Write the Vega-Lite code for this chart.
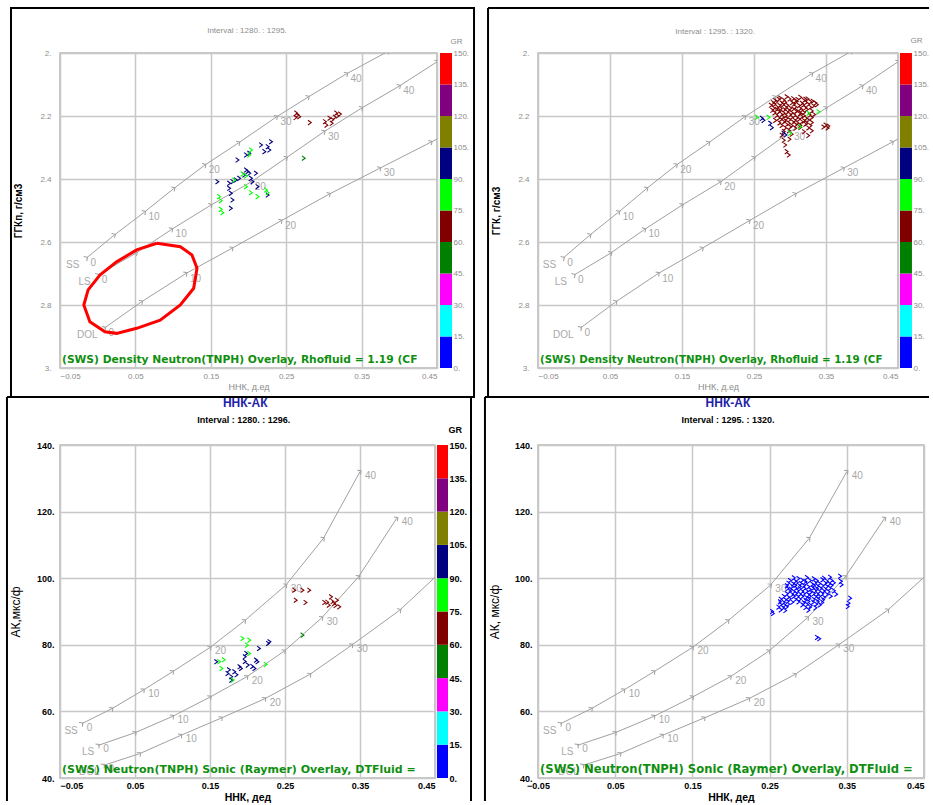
{
"$schema": "https://vega.github.io/schema/vega-lite/v6.json",
"background": "#ffffff",
"padding": {"left": 5, "top": 6, "right": 0, "bottom": 0},
"autosize": {"type": "pad"},
"config": {
  "font": "Liberation Sans",
  "view": {"stroke": "#b8b8b8", "strokeWidth": 1.5},
  "axis": {"grid": true, "gridColor": "#c8c8c8", "gridWidth": 1.5, "domain": false, "ticks": false, "tickSize": 0, "labelFont": "Liberation Sans", "titleFont": "Liberation Sans"},
  "text": {"font": "Liberation Sans"}
},
"datasets": {
  "dn": [
    {"lith":"SS","phi":0,"x":-0.015,"y":2.651},{"lith":"SS","phi":5,"x":0.022,"y":2.578},{"lith":"SS","phi":10,"x":0.062,"y":2.505},{"lith":"SS","phi":15,"x":0.101,"y":2.43},{"lith":"SS","phi":20,"x":0.142,"y":2.356},{"lith":"SS","phi":25,"x":0.187,"y":2.285},{"lith":"SS","phi":30,"x":0.237,"y":2.203},{"lith":"SS","phi":35,"x":0.279,"y":2.14},{"lith":"SS","phi":40,"x":0.33,"y":2.066},{"lith":"SS","phi":45,"x":0.385,"y":1.995},
    {"lith":"LS","phi":0,"x":0.0,"y":2.705},{"lith":"LS","phi":5,"x":0.051,"y":2.635},{"lith":"LS","phi":10,"x":0.098,"y":2.56},{"lith":"LS","phi":15,"x":0.15,"y":2.483},{"lith":"LS","phi":20,"x":0.203,"y":2.41},{"lith":"LS","phi":25,"x":0.25,"y":2.333},{"lith":"LS","phi":30,"x":0.3,"y":2.25},{"lith":"LS","phi":35,"x":0.35,"y":2.175},{"lith":"LS","phi":40,"x":0.4,"y":2.105},{"lith":"LS","phi":45,"x":0.45,"y":2.028},
    {"lith":"DOL","phi":0,"x":0.009,"y":2.873},{"lith":"DOL","phi":5,"x":0.058,"y":2.79},{"lith":"DOL","phi":10,"x":0.117,"y":2.7},{"lith":"DOL","phi":15,"x":0.178,"y":2.62},{"lith":"DOL","phi":20,"x":0.243,"y":2.533},{"lith":"DOL","phi":25,"x":0.307,"y":2.448},{"lith":"DOL","phi":30,"x":0.374,"y":2.366},{"lith":"DOL","phi":35,"x":0.442,"y":2.283},{"lith":"DOL","phi":40,"x":0.51,"y":2.2}
  ],
  "ns": [
    {"lith":"SS","phi":0,"x":-0.021,"y":56.3},{"lith":"SS","phi":5,"x":0.019,"y":60.8},{"lith":"SS","phi":10,"x":0.061,"y":66.4},{"lith":"SS","phi":15,"x":0.1,"y":71.9},{"lith":"SS","phi":20,"x":0.15,"y":79.2},{"lith":"SS","phi":25,"x":0.196,"y":87.2},{"lith":"SS","phi":30,"x":0.251,"y":97.9},{"lith":"SS","phi":35,"x":0.301,"y":111.9},{"lith":"SS","phi":40,"x":0.35,"y":132.0},
    {"lith":"LS","phi":0,"x":0.001,"y":49.8},{"lith":"LS","phi":5,"x":0.05,"y":53.6},{"lith":"LS","phi":10,"x":0.1,"y":58.5},{"lith":"LS","phi":15,"x":0.15,"y":64.3},{"lith":"LS","phi":20,"x":0.199,"y":70.4},{"lith":"LS","phi":25,"x":0.249,"y":78.1},{"lith":"LS","phi":30,"x":0.299,"y":88.1},{"lith":"LS","phi":35,"x":0.348,"y":100.4},{"lith":"LS","phi":40,"x":0.399,"y":118.0},
    {"lith":"DOL","phi":0,"x":0.008,"y":43.8},{"lith":"DOL","phi":5,"x":0.056,"y":47.3},{"lith":"DOL","phi":10,"x":0.111,"y":52.8},{"lith":"DOL","phi":15,"x":0.165,"y":58.0},{"lith":"DOL","phi":20,"x":0.223,"y":63.8},{"lith":"DOL","phi":25,"x":0.283,"y":71.1},{"lith":"DOL","phi":30,"x":0.339,"y":79.9},{"lith":"DOL","phi":35,"x":0.403,"y":90.4},{"lith":"DOL","phi":40,"x":0.47,"y":104.5}
  ],
  "gr": [
    {"lo":0,"hi":15},{"lo":15,"hi":30},{"lo":30,"hi":45},{"lo":45,"hi":60},{"lo":60,"hi":75},{"lo":75,"hi":90},{"lo":90,"hi":105},{"lo":105,"hi":120},{"lo":120,"hi":135},{"lo":135,"hi":150}
  ],
  "ell": [
    {"i":0,"x":0.0784,"y":2.604},{"i":1,"x":0.1096,"y":2.615},{"i":2,"x":0.125,"y":2.641},{"i":3,"x":0.1317,"y":2.683},{"i":4,"x":0.1273,"y":2.747},{"i":5,"x":0.1096,"y":2.8},{"i":6,"x":0.0829,"y":2.848},{"i":7,"x":0.0517,"y":2.874},{"i":8,"x":0.0251,"y":2.89},{"i":9,"x":0.0096,"y":2.885},{"i":10,"x":-0.0104,"y":2.853},{"i":11,"x":-0.0184,"y":2.8},{"i":12,"x":-0.0127,"y":2.752},{"i":13,"x":0.0029,"y":2.705},{"i":14,"x":0.0251,"y":2.663},{"i":15,"x":0.0517,"y":2.625},{"i":16,"x":0.0784,"y":2.604}
  ],
  "tlp": [
    {"x":0.263,"y":2.191,"g":65},{"x":0.267,"y":2.202,"g":65},{"x":0.265,"y":2.197,"g":65},{"x":0.262,"y":2.205,"g":65},{"x":0.281,"y":2.221,"g":65},{"x":0.301,"y":2.218,"g":65},{"x":0.307,"y":2.207,"g":65},{"x":0.316,"y":2.191,"g":65},{"x":0.321,"y":2.194,"g":65},{"x":0.31,"y":2.223,"g":65},{"x":0.303,"y":2.229,"g":65},{"x":0.314,"y":2.204,"g":65},{"x":0.318,"y":2.2,"g":65},{"x":0.311,"y":2.212,"g":65},
    {"x":0.273,"y":2.334,"g":50},
    {"x":0.2296,"y":2.2816,"g":95},{"x":0.2251,"y":2.2975,"g":95},{"x":0.2273,"y":2.308,"g":95},{"x":0.2207,"y":2.3132,"g":95},{"x":0.2163,"y":2.292,"g":95},{"x":0.2007,"y":2.3185,"g":95},{"x":0.1963,"y":2.3238,"g":95},{"x":0.1851,"y":2.3397,"g":95},{"x":0.1963,"y":2.3714,"g":95},{"x":0.2007,"y":2.382,"g":95},{"x":0.194,"y":2.3873,"g":95},{"x":0.1829,"y":2.4032,"g":95},{"x":0.1784,"y":2.4085,"g":95},{"x":0.174,"y":2.4137,"g":95},{"x":0.1584,"y":2.4085,"g":95},{"x":0.174,"y":2.4296,"g":95},{"x":0.1763,"y":2.4455,"g":95},{"x":0.1784,"y":2.4667,"g":95},{"x":0.1763,"y":2.493,"g":95},{"x":0.2029,"y":2.3979,"g":95},{"x":0.2096,"y":2.382,"g":95},{"x":0.2051,"y":2.4085,"g":95},{"x":0.2117,"y":2.4244,"g":95},{"x":0.2251,"y":2.4508,"g":95},{"x":0.1873,"y":2.3979,"g":95},{"x":0.1985,"y":2.376,"g":95},
    {"x":0.2029,"y":2.308,"g":80},{"x":0.2007,"y":2.3238,"g":80},{"x":0.1807,"y":2.4032,"g":80},{"x":0.1918,"y":2.3841,"g":80},{"x":0.1963,"y":2.3905,"g":80},{"x":0.1963,"y":2.4244,"g":80},{"x":0.2029,"y":2.4434,"g":80},{"x":0.2117,"y":2.456,"g":80},{"x":0.2229,"y":2.4349,"g":80},{"x":0.2251,"y":2.4434,"g":80},{"x":0.1607,"y":2.456,"g":80},{"x":0.1629,"y":2.4688,"g":80},{"x":0.1629,"y":2.4963,"g":80},{"x":0.1651,"y":2.5069,"g":80}
  ],
  "trp": [
    {"x":0.286,"y":2.143,"g":65},{"x":0.295,"y":2.139,"g":65},{"x":0.304,"y":2.145,"g":65},{"x":0.314,"y":2.141,"g":65},{"x":0.321,"y":2.147,"g":65},
    {"x":0.279,"y":2.151,"g":65},{"x":0.284,"y":2.147,"g":65},{"x":0.291,"y":2.15,"g":65},{"x":0.299,"y":2.146,"g":65},{"x":0.307,"y":2.152,"g":65},{"x":0.31,"y":2.148,"g":65},{"x":0.319,"y":2.151,"g":65},{"x":0.324,"y":2.146,"g":65},{"x":0.331,"y":2.153,"g":65},
    {"x":0.276,"y":2.158,"g":65},{"x":0.281,"y":2.155,"g":65},{"x":0.288,"y":2.159,"g":65},{"x":0.293,"y":2.156,"g":65},{"x":0.302,"y":2.158,"g":65},{"x":0.309,"y":2.154,"g":65},{"x":0.316,"y":2.16,"g":65},{"x":0.322,"y":2.157,"g":65},{"x":0.328,"y":2.155,"g":65},{"x":0.335,"y":2.159,"g":65},
    {"x":0.273,"y":2.166,"g":65},{"x":0.278,"y":2.163,"g":65},{"x":0.285,"y":2.167,"g":65},{"x":0.29,"y":2.164,"g":65},{"x":0.296,"y":2.166,"g":65},{"x":0.305,"y":2.162,"g":65},{"x":0.312,"y":2.167,"g":65},{"x":0.318,"y":2.165,"g":65},{"x":0.325,"y":2.163,"g":65},{"x":0.332,"y":2.168,"g":65},{"x":0.337,"y":2.164,"g":65},
    {"x":0.277,"y":2.175,"g":65},{"x":0.282,"y":2.172,"g":65},{"x":0.287,"y":2.176,"g":65},{"x":0.294,"y":2.173,"g":65},{"x":0.3,"y":2.175,"g":65},{"x":0.307,"y":2.171,"g":65},{"x":0.314,"y":2.176,"g":65},{"x":0.321,"y":2.174,"g":65},{"x":0.328,"y":2.172,"g":65},
    {"x":0.275,"y":2.182,"g":65},{"x":0.281,"y":2.179,"g":65},{"x":0.286,"y":2.183,"g":65},{"x":0.292,"y":2.18,"g":65},{"x":0.298,"y":2.182,"g":65},{"x":0.304,"y":2.178,"g":65},{"x":0.309,"y":2.183,"g":65},{"x":0.316,"y":2.181,"g":65},{"x":0.323,"y":2.179,"g":65},{"x":0.33,"y":2.184,"g":65},
    {"x":0.278,"y":2.19,"g":65},{"x":0.284,"y":2.187,"g":65},{"x":0.291,"y":2.191,"g":65},{"x":0.296,"y":2.188,"g":65},{"x":0.302,"y":2.19,"g":65},{"x":0.308,"y":2.186,"g":65},{"x":0.314,"y":2.191,"g":65},{"x":0.319,"y":2.189,"g":65},
    {"x":0.281,"y":2.198,"g":65},{"x":0.288,"y":2.195,"g":65},{"x":0.294,"y":2.199,"g":65},{"x":0.3,"y":2.196,"g":65},{"x":0.306,"y":2.198,"g":65},{"x":0.313,"y":2.194,"g":65},{"x":0.319,"y":2.199,"g":65},{"x":0.327,"y":2.197,"g":65},{"x":0.333,"y":2.195,"g":65},
    {"x":0.284,"y":2.206,"g":65},{"x":0.29,"y":2.203,"g":65},{"x":0.295,"y":2.207,"g":65},{"x":0.302,"y":2.204,"g":65},{"x":0.309,"y":2.206,"g":65},{"x":0.316,"y":2.202,"g":65},{"x":0.322,"y":2.207,"g":65},{"x":0.33,"y":2.205,"g":65},
    {"x":0.279,"y":2.214,"g":65},{"x":0.287,"y":2.211,"g":65},{"x":0.293,"y":2.215,"g":65},{"x":0.299,"y":2.212,"g":65},{"x":0.306,"y":2.214,"g":65},{"x":0.312,"y":2.21,"g":65},{"x":0.319,"y":2.215,"g":65},{"x":0.325,"y":2.213,"g":65},
    {"x":0.285,"y":2.222,"g":65},{"x":0.291,"y":2.219,"g":65},{"x":0.298,"y":2.223,"g":65},{"x":0.304,"y":2.22,"g":65},{"x":0.31,"y":2.222,"g":65},{"x":0.316,"y":2.218,"g":65},{"x":0.323,"y":2.223,"g":65},{"x":0.33,"y":2.221,"g":65},
    {"x":0.288,"y":2.23,"g":65},{"x":0.295,"y":2.227,"g":65},{"x":0.302,"y":2.231,"g":65},{"x":0.308,"y":2.228,"g":65},{"x":0.314,"y":2.23,"g":65},{"x":0.321,"y":2.226,"g":65},{"x":0.328,"y":2.231,"g":65},{"x":0.349,"y":2.229,"g":65},{"x":0.353,"y":2.232,"g":65},
    {"x":0.293,"y":2.238,"g":65},{"x":0.3,"y":2.235,"g":65},{"x":0.307,"y":2.239,"g":65},{"x":0.314,"y":2.236,"g":65},{"x":0.325,"y":2.238,"g":65},{"x":0.346,"y":2.235,"g":65},{"x":0.352,"y":2.238,"g":65},
    {"x":0.291,"y":2.249,"g":65},{"x":0.298,"y":2.246,"g":65},{"x":0.319,"y":2.25,"g":65},{"x":0.33,"y":2.247,"g":65},
    {"x":0.288,"y":2.261,"g":65},{"x":0.302,"y":2.258,"g":65},{"x":0.325,"y":2.262,"g":65},
    {"x":0.291,"y":2.277,"g":65},{"x":0.299,"y":2.274,"g":65},{"x":0.293,"y":2.292,"g":65},{"x":0.295,"y":2.313,"g":65},{"x":0.298,"y":2.324,"g":65},
    {"x":0.2606,"y":2.2074,"g":95},{"x":0.2629,"y":2.2138,"g":95},{"x":0.2722,"y":2.2233,"g":95},{"x":0.2745,"y":2.237,"g":95},{"x":0.2907,"y":2.255,"g":95},{"x":0.2935,"y":2.2603,"g":95},
    {"x":0.2537,"y":2.2042,"g":80},{"x":0.2699,"y":2.2042,"g":80},{"x":0.3,"y":2.255,"g":80},{"x":0.3138,"y":2.2339,"g":80},{"x":0.3254,"y":2.1915,"g":80},{"x":0.3393,"y":2.1863,"g":80}
  ],
  "blp": [
    {"x":0.262,"y":96.4,"g":65},{"x":0.273,"y":96.4,"g":65},{"x":0.282,"y":96.4,"g":65},{"x":0.264,"y":93.4,"g":65},{"x":0.277,"y":92.7,"g":65},{"x":0.302,"y":92.7,"g":65},{"x":0.311,"y":94.4,"g":65},{"x":0.315,"y":92.4,"g":65},{"x":0.319,"y":93.4,"g":65},{"x":0.308,"y":91.9,"g":65},{"x":0.322,"y":91.4,"g":65},{"x":0.313,"y":93.0,"g":65},{"x":0.317,"y":91.8,"g":65},{"x":0.306,"y":92.8,"g":65},
    {"x":0.273,"y":82.9,"g":50},
    {"x":0.158,"y":74.9,"g":95},{"x":0.173,"y":71.4,"g":95},{"x":0.178,"y":70.4,"g":95},{"x":0.182,"y":71.9,"g":95},{"x":0.189,"y":73.4,"g":95},{"x":0.196,"y":76.4,"g":95},{"x":0.198,"y":77.4,"g":95},{"x":0.2,"y":73.9,"g":95},{"x":0.209,"y":72.9,"g":95},{"x":0.213,"y":74.9,"g":95},{"x":0.215,"y":78.9,"g":95},{"x":0.227,"y":80.4,"g":95},{"x":0.229,"y":80.9,"g":95},{"x":0.178,"y":69.4,"g":95},{"x":0.191,"y":72.9,"g":95},{"x":0.211,"y":75.4,"g":95},{"x":0.185,"y":71.0,"g":95},{"x":0.175,"y":72.5,"g":95},{"x":0.206,"y":73.5,"g":95},{"x":0.196,"y":75.0,"g":95},
    {"x":0.193,"y":81.9,"g":80},{"x":0.202,"y":81.4,"g":80},{"x":0.199,"y":79.9,"g":80},{"x":0.202,"y":77.4,"g":80},{"x":0.162,"y":74.9,"g":80},{"x":0.165,"y":72.9,"g":80},{"x":0.18,"y":69.4,"g":80},{"x":0.224,"y":74.1,"g":80},{"x":0.168,"y":75.5,"g":80}
  ],
  "brp": [
    {"x":0.281,"y":100.1,"g":10},{"x":0.287,"y":99.9,"g":10},{"x":0.298,"y":100.2,"g":10},{"x":0.307,"y":99.8,"g":10},{"x":0.32,"y":100.0,"g":10},{"x":0.328,"y":100.3,"g":10},
    {"x":0.276,"y":99.3,"g":10},{"x":0.283,"y":99.1,"g":10},{"x":0.292,"y":99.4,"g":10},{"x":0.296,"y":99.0,"g":10},{"x":0.302,"y":99.3,"g":10},{"x":0.311,"y":99.2,"g":10},{"x":0.318,"y":99.5,"g":10},{"x":0.324,"y":99.1,"g":10},{"x":0.33,"y":99.3,"g":10},
    {"x":0.274,"y":98.5,"g":10},{"x":0.28,"y":98.3,"g":10},{"x":0.285,"y":98.6,"g":10},{"x":0.29,"y":98.4,"g":10},{"x":0.297,"y":98.5,"g":10},{"x":0.305,"y":98.2,"g":10},{"x":0.309,"y":98.6,"g":10},{"x":0.314,"y":98.4,"g":10},{"x":0.322,"y":98.5,"g":10},{"x":0.327,"y":98.3,"g":10},{"x":0.333,"y":98.6,"g":10},
    {"x":0.272,"y":97.7,"g":10},{"x":0.279,"y":97.5,"g":10},{"x":0.283,"y":97.8,"g":10},{"x":0.289,"y":97.6,"g":10},{"x":0.294,"y":97.7,"g":10},{"x":0.3,"y":97.4,"g":10},{"x":0.307,"y":97.8,"g":10},{"x":0.312,"y":97.6,"g":10},{"x":0.318,"y":97.7,"g":10},{"x":0.324,"y":97.5,"g":10},{"x":0.33,"y":97.8,"g":10},
    {"x":0.273,"y":96.9,"g":10},{"x":0.277,"y":96.7,"g":10},{"x":0.284,"y":97.0,"g":10},{"x":0.289,"y":96.8,"g":10},{"x":0.295,"y":96.9,"g":10},{"x":0.302,"y":96.6,"g":10},{"x":0.306,"y":97.0,"g":10},{"x":0.311,"y":96.8,"g":10},{"x":0.316,"y":96.9,"g":10},{"x":0.322,"y":96.7,"g":10},{"x":0.328,"y":97.0,"g":10},
    {"x":0.276,"y":96.1,"g":10},{"x":0.281,"y":95.9,"g":10},{"x":0.286,"y":96.2,"g":10},{"x":0.292,"y":96.0,"g":10},{"x":0.298,"y":96.1,"g":10},{"x":0.303,"y":95.8,"g":10},{"x":0.309,"y":96.2,"g":10},{"x":0.314,"y":96.0,"g":10},{"x":0.32,"y":96.1,"g":10},{"x":0.326,"y":95.9,"g":10},{"x":0.333,"y":96.2,"g":10},
    {"x":0.272,"y":95.3,"g":10},{"x":0.279,"y":95.1,"g":10},{"x":0.284,"y":95.4,"g":10},{"x":0.289,"y":95.2,"g":10},{"x":0.294,"y":95.3,"g":10},{"x":0.3,"y":95.0,"g":10},{"x":0.307,"y":95.4,"g":10},{"x":0.312,"y":95.2,"g":10},{"x":0.318,"y":95.3,"g":10},{"x":0.324,"y":95.1,"g":10},
    {"x":0.268,"y":94.5,"g":10},{"x":0.274,"y":94.3,"g":10},{"x":0.281,"y":94.6,"g":10},{"x":0.286,"y":94.4,"g":10},{"x":0.292,"y":94.5,"g":10},{"x":0.297,"y":94.2,"g":10},{"x":0.302,"y":94.6,"g":10},{"x":0.309,"y":94.4,"g":10},{"x":0.314,"y":94.5,"g":10},{"x":0.32,"y":94.3,"g":10},{"x":0.329,"y":94.6,"g":10},
    {"x":0.264,"y":93.7,"g":10},{"x":0.27,"y":93.5,"g":10},{"x":0.276,"y":93.8,"g":10},{"x":0.283,"y":93.6,"g":10},{"x":0.289,"y":93.7,"g":10},{"x":0.296,"y":93.4,"g":10},{"x":0.301,"y":93.8,"g":10},{"x":0.307,"y":93.6,"g":10},{"x":0.313,"y":93.7,"g":10},{"x":0.319,"y":93.5,"g":10},
    {"x":0.263,"y":92.9,"g":10},{"x":0.268,"y":92.7,"g":10},{"x":0.273,"y":93.0,"g":10},{"x":0.279,"y":92.8,"g":10},{"x":0.287,"y":92.9,"g":10},{"x":0.294,"y":92.6,"g":10},{"x":0.3,"y":93.0,"g":10},{"x":0.306,"y":92.8,"g":10},{"x":0.312,"y":92.9,"g":10},{"x":0.318,"y":92.7,"g":10},
    {"x":0.264,"y":92.1,"g":10},{"x":0.269,"y":91.9,"g":10},{"x":0.274,"y":92.2,"g":10},{"x":0.292,"y":92.0,"g":10},{"x":0.298,"y":92.1,"g":10},{"x":0.303,"y":91.8,"g":10},{"x":0.31,"y":92.2,"g":10},{"x":0.315,"y":92.0,"g":10},
    {"x":0.261,"y":91.3,"g":10},{"x":0.267,"y":91.1,"g":10},{"x":0.272,"y":91.4,"g":10},{"x":0.296,"y":91.2,"g":10},{"x":0.302,"y":91.3,"g":10},{"x":0.309,"y":91.1,"g":10},
    {"x":0.264,"y":90.5,"g":10},{"x":0.27,"y":90.3,"g":10},{"x":0.3,"y":90.4,"g":10},
    {"x":0.253,"y":90.0,"g":10},{"x":0.254,"y":89.4,"g":10},{"x":0.341,"y":100.6,"g":10},{"x":0.342,"y":99.05,"g":10},{"x":0.343,"y":98.05,"g":10},{"x":0.352,"y":92.5,"g":10},{"x":0.354,"y":94.0,"g":10},{"x":0.351,"y":91.5,"g":10},{"x":0.311,"y":82.2,"g":10},{"x":0.314,"y":81.8,"g":10},{"x":0.336,"y":95.2,"g":10}
  ]
},
"columns": 2,
"spacing": {"row": 77, "column": 101},
"bounds": "flush",
"concat": [
  {
    "width": 377, "height": 315,
    "resolve": {"scale": {"y": "independent"}},
    "layer": [
      {"layer": [
        {"data": {"values": [{}]}, "mark": {"type": "rect", "filled": false, "stroke": "#000000", "strokeWidth": 2},
         "encoding": {"x": {"datum": -0.115, "type": "quantitative"}, "x2": {"datum": 0.4991}, "y": {"datum": 1.8571, "type": "quantitative"}, "y2": {"datum": 3.0921}}},
        {"data": {"name": "dn"}, "mark": {"type": "line", "color": "#a0a0a0", "strokeWidth": 1, "clip": true},
         "encoding": {
           "x": {"field": "x", "type": "quantitative", "scale": {"domain": [-0.05, 0.45], "nice": false, "zero": false},
                 "axis": {"values": [-0.05, 0.05, 0.15, 0.25, 0.35, 0.45], "format": ".2f", "title": "ННК, д.ед", "labelFontSize": 8, "labelColor": "#8c8c8c", "labelPadding": 4, "titleFontSize": 9, "titleFontWeight": "normal", "titleColor": "#8c8c8c", "titlePadding": 2}},
           "y": {"field": "y", "type": "quantitative", "scale": {"domain": [2, 3], "reverse": true, "nice": false, "zero": false},
                 "axis": {"values": [2, 2.2, 2.4, 2.6, 2.8, 3], "format": ".1f", "labelExpr": "replace(datum.label, '.0', '.')", "title": "ГГКп, г/см3", "labelFontSize": 8, "labelColor": "#8c8c8c", "labelPadding": 9, "titleFontSize": 10, "titleFontWeight": "bold", "titleColor": "#000000", "titlePadding": 16}},
           "detail": {"field": "lith"},
           "order": {"field": "phi"}
         }},
        {"data": {"name": "dn"}, "mark": {"type": "point", "shape": "M-0.5,-1L0.5,0L-0.5,1", "size": 30, "color": "#a0a0a0", "strokeWidth": 1, "angle": -33, "opacity": 1, "clip": true},
         "encoding": {"x": {"field": "x", "type": "quantitative"}, "y": {"field": "y", "type": "quantitative"}}},
        {"data": {"name": "dn"}, "transform": [{"filter": "datum.phi % 10 == 0 && datum.x <= 0.45 && datum.y >= 2"}],
         "mark": {"type": "text", "align": "left", "baseline": "middle", "dx": 4, "dy": 5, "fontSize": 10, "color": "#a8a8a8"},
         "encoding": {"x": {"field": "x", "type": "quantitative"}, "y": {"field": "y", "type": "quantitative"}, "text": {"field": "phi", "type": "quantitative", "format": "d"}}},
        {"data": {"name": "dn"}, "transform": [{"filter": "datum.phi == 0"}],
         "mark": {"type": "text", "align": "right", "baseline": "middle", "dx": -7, "dy": 7, "fontSize": 10, "color": "#a8a8a8"},
         "encoding": {"x": {"field": "x", "type": "quantitative"}, "y": {"field": "y", "type": "quantitative"}, "text": {"field": "lith", "type": "nominal"}}},
        {"data": {"name": "tlp"}, "mark": {"type": "point", "shape": "M-0.7,-1L0.7,0L-0.7,1", "size": 22, "strokeWidth": 1.1, "filled": false, "opacity": 1},
         "encoding": {"x": {"field": "x", "type": "quantitative"}, "y": {"field": "y", "type": "quantitative"},
           "color": {"field": "g", "type": "quantitative", "scale": {"type": "threshold", "domain": [15,30,45,60,75,90,105,120,135], "range": ["#0000ff","#00ffff","#ff00ff","#008000","#800000","#00ff00","#000080","#808000","#800080","#ff0000"]}, "legend": null}}},
        {"data": {"name": "ell"}, "mark": {"type": "line", "color": "#ff0000", "strokeWidth": 3},
         "encoding": {"x": {"field": "x", "type": "quantitative"}, "y": {"field": "y", "type": "quantitative"}, "order": {"field": "i"}}},
        {"data": {"values": [{}]}, "mark": {"type": "text", "text": "(SWS) Density Neutron(TNPH) Overlay, Rhofluid = 1.19 (CF", "align": "left", "baseline": "bottom", "dx": 2, "dy": -3, "font": "DejaVu Sans", "fontSize": 10.7, "fontWeight": "bold", "color": "#0f8f0f"},
         "encoding": {"x": {"datum": -0.05, "type": "quantitative"}, "y": {"datum": 3, "type": "quantitative"}}},
        {"data": {"values": [{}]}, "mark": {"type": "text", "text": "Interval : 1280. : 1295.", "align": "center", "baseline": "middle", "fontSize": 8, "color": "#8c8c8c"},
         "encoding": {"x": {"datum": 0.198, "type": "quantitative"}, "y": {"datum": 1.9302, "type": "quantitative"}}}
      ]},
      {"data": {"name": "gr"}, "mark": {"type": "rect"},
       "encoding": {
         "x": {"datum": 0.454, "type": "quantitative"}, "x2": {"datum": 0.4699},
         "y": {"field": "lo", "type": "quantitative", "scale": {"domain": [0, 150], "nice": false, "zero": false},
               "axis": {"orient": "right", "offset": 15, "values": [0,15,30,45,60,75,90,105,120,135,150], "format": "d", "labelExpr": "datum.label + '.'", "grid": false, "labelFontSize": 8, "labelColor": "#8c8c8c", "labelPadding": 1, "title": "GR", "titleAngle": 0, "titleX": -2, "titleY": -8, "titleAlign": "left", "titleBaseline": "bottom", "titleColor": "#8c8c8c", "titleFontSize": 8, "titleFontWeight": "normal"}},
         "y2": {"field": "hi"},
         "color": {"field": "lo", "type": "quantitative", "scale": {"type": "threshold", "domain": [15,30,45,60,75,90,105,120,135], "range": ["#0000ff","#00ffff","#ff00ff","#008000","#800000","#00ff00","#000080","#808000","#800080","#ff0000"]}, "legend": null}
       }}
    ]
  },
  {
    "width": 360, "height": 315,
    "resolve": {"scale": {"y": "independent"}},
    "layer": [
      {"layer": [
        {"data": {"values": [{}]}, "mark": {"type": "rule", "stroke": "#000000", "strokeWidth": 2},
         "encoding": {"x": {"datum": -0.1194, "type": "quantitative"}, "y": {"datum": 1.8571, "type": "quantitative"}, "y2": {"datum": 3.0921}}},
        {"data": {"values": [{}]}, "mark": {"type": "rule", "stroke": "#000000", "strokeWidth": 2},
         "encoding": {"x": {"datum": -0.1194, "type": "quantitative"}, "x2": {"datum": 0.4931}, "y": {"datum": 1.8571, "type": "quantitative"}}},
        {"data": {"values": [{}]}, "mark": {"type": "rule", "stroke": "#000000", "strokeWidth": 2},
         "encoding": {"x": {"datum": -0.1194, "type": "quantitative"}, "x2": {"datum": 0.4931}, "y": {"datum": 3.0921, "type": "quantitative"}}},
        {"data": {"name": "dn"}, "mark": {"type": "line", "color": "#a0a0a0", "strokeWidth": 1, "clip": true},
         "encoding": {
           "x": {"field": "x", "type": "quantitative", "scale": {"domain": [-0.05, 0.45], "nice": false, "zero": false},
                 "axis": {"values": [-0.05, 0.05, 0.15, 0.25, 0.35, 0.45], "format": ".2f", "title": "ННК, д.ед", "labelFontSize": 8, "labelColor": "#8c8c8c", "labelPadding": 4, "titleFontSize": 9, "titleFontWeight": "normal", "titleColor": "#8c8c8c", "titlePadding": 2}},
           "y": {"field": "y", "type": "quantitative", "scale": {"domain": [2, 3], "reverse": true, "nice": false, "zero": false},
                 "axis": {"values": [2, 2.2, 2.4, 2.6, 2.8, 3], "format": ".1f", "labelExpr": "replace(datum.label, '.0', '.')", "title": "ГГК, г/см3", "labelFontSize": 8, "labelColor": "#8c8c8c", "labelPadding": 9, "titleFontSize": 10, "titleFontWeight": "bold", "titleColor": "#000000", "titlePadding": 16}},
           "detail": {"field": "lith"},
           "order": {"field": "phi"}
         }},
        {"data": {"name": "dn"}, "mark": {"type": "point", "shape": "M-0.5,-1L0.5,0L-0.5,1", "size": 30, "color": "#a0a0a0", "strokeWidth": 1, "angle": -33, "opacity": 1, "clip": true},
         "encoding": {"x": {"field": "x", "type": "quantitative"}, "y": {"field": "y", "type": "quantitative"}}},
        {"data": {"name": "dn"}, "transform": [{"filter": "datum.phi % 10 == 0 && datum.x <= 0.45 && datum.y >= 2"}],
         "mark": {"type": "text", "align": "left", "baseline": "middle", "dx": 4, "dy": 5, "fontSize": 10, "color": "#a8a8a8"},
         "encoding": {"x": {"field": "x", "type": "quantitative"}, "y": {"field": "y", "type": "quantitative"}, "text": {"field": "phi", "type": "quantitative", "format": "d"}}},
        {"data": {"name": "dn"}, "transform": [{"filter": "datum.phi == 0"}],
         "mark": {"type": "text", "align": "right", "baseline": "middle", "dx": -7, "dy": 7, "fontSize": 10, "color": "#a8a8a8"},
         "encoding": {"x": {"field": "x", "type": "quantitative"}, "y": {"field": "y", "type": "quantitative"}, "text": {"field": "lith", "type": "nominal"}}},
        {"data": {"name": "trp"}, "mark": {"type": "point", "shape": "M-0.7,-1L0.7,0L-0.7,1", "size": 22, "strokeWidth": 1.1, "filled": false, "opacity": 1},
         "encoding": {"x": {"field": "x", "type": "quantitative"}, "y": {"field": "y", "type": "quantitative"},
           "color": {"field": "g", "type": "quantitative", "scale": {"type": "threshold", "domain": [15,30,45,60,75,90,105,120,135], "range": ["#0000ff","#00ffff","#ff00ff","#008000","#800000","#00ff00","#000080","#808000","#800080","#ff0000"]}, "legend": null}}},
        {"data": {"values": [{}]}, "mark": {"type": "text", "text": "(SWS) Density Neutron(TNPH) Overlay, Rhofluid = 1.19 (CF", "align": "left", "baseline": "bottom", "dx": 2, "dy": -3, "font": "DejaVu Sans", "fontSize": 10.3, "fontWeight": "bold", "color": "#0f8f0f"},
         "encoding": {"x": {"datum": -0.05, "type": "quantitative"}, "y": {"datum": 3, "type": "quantitative"}}},
        {"data": {"values": [{}]}, "mark": {"type": "text", "text": "Interval : 1295. : 1320.", "align": "center", "baseline": "middle", "fontSize": 8, "color": "#8c8c8c"},
         "encoding": {"x": {"datum": 0.196, "type": "quantitative"}, "y": {"datum": 1.9333, "type": "quantitative"}}}
      ]},
      {"data": {"name": "gr"}, "mark": {"type": "rect"},
       "encoding": {
         "x": {"datum": 0.4528, "type": "quantitative"}, "x2": {"datum": 0.4694},
         "y": {"field": "lo", "type": "quantitative", "scale": {"domain": [0, 150], "nice": false, "zero": false},
               "axis": {"orient": "right", "offset": 14, "values": [0,15,30,45,60,75,90,105,120,135,150], "format": "d", "labelExpr": "datum.label + '.'", "grid": false, "labelFontSize": 8, "labelColor": "#8c8c8c", "labelPadding": 1, "title": "GR", "titleAngle": 0, "titleX": -2, "titleY": -9, "titleAlign": "left", "titleBaseline": "bottom", "titleColor": "#8c8c8c", "titleFontSize": 8, "titleFontWeight": "normal"}},
         "y2": {"field": "hi"},
         "color": {"field": "lo", "type": "quantitative", "scale": {"type": "threshold", "domain": [15,30,45,60,75,90,105,120,135], "range": ["#0000ff","#00ffff","#ff00ff","#008000","#800000","#00ff00","#000080","#808000","#800080","#ff0000"]}, "legend": null}
       }}
    ]
  },
  {
    "width": 375, "height": 333,
    "resolve": {"scale": {"y": "independent"}},
    "layer": [
      {"layer": [
        {"data": {"values": [{}]}, "mark": {"type": "rule", "stroke": "#000000", "strokeWidth": 2},
         "encoding": {"x": {"datum": -0.1207, "type": "quantitative"}, "y": {"datum": 154.41, "type": "quantitative"}, "y2": {"datum": 33.09}}},
        {"data": {"values": [{}]}, "mark": {"type": "rule", "stroke": "#000000", "strokeWidth": 2},
         "encoding": {"x": {"datum": -0.1207, "type": "quantitative"}, "x2": {"datum": 0.498}, "y": {"datum": 154.41, "type": "quantitative"}}},
        {"data": {"values": [{}]}, "mark": {"type": "rule", "stroke": "#000000", "strokeWidth": 2},
         "encoding": {"x": {"datum": 0.498, "type": "quantitative"}, "y": {"datum": 154.41, "type": "quantitative"}, "y2": {"datum": 33.09}}},
        {"data": {"name": "ns"}, "mark": {"type": "line", "color": "#a0a0a0", "strokeWidth": 1, "clip": true},
         "encoding": {
           "x": {"field": "x", "type": "quantitative", "scale": {"domain": [-0.05, 0.45], "nice": false, "zero": false},
                 "axis": {"values": [-0.05, 0.05, 0.15, 0.25, 0.35, 0.45], "format": ".2f", "title": "ННК, дед", "labelFontSize": 9, "labelFontWeight": "bold", "labelColor": "#000000", "labelPadding": 3, "titleFontSize": 10.5, "titleFontWeight": "bold", "titleColor": "#000000", "titlePadding": 2}},
           "y": {"field": "y", "type": "quantitative", "scale": {"domain": [40, 140], "nice": false, "zero": false},
                 "axis": {"values": [40, 60, 80, 100, 120, 140], "format": "d", "labelExpr": "datum.label + '.'", "title": "АК,мкс/ф", "labelFontSize": 9, "labelFontWeight": "bold", "labelColor": "#000000", "labelPadding": 6, "titleFontSize": 12, "titleFontWeight": "normal", "titleColor": "#000000", "titlePadding": 14}},
           "detail": {"field": "lith"},
           "order": {"field": "phi"}
         }},
        {"data": {"name": "ns"}, "mark": {"type": "point", "shape": "M-0.5,-1L0.5,0L-0.5,1", "size": 30, "color": "#a0a0a0", "strokeWidth": 1, "angle": -38, "opacity": 1, "clip": true},
         "encoding": {"x": {"field": "x", "type": "quantitative"}, "y": {"field": "y", "type": "quantitative"}}},
        {"data": {"name": "ns"}, "transform": [{"filter": "datum.phi % 10 == 0 && datum.x <= 0.45"}],
         "mark": {"type": "text", "align": "left", "baseline": "middle", "dx": 5, "dy": 4, "fontSize": 10, "color": "#a8a8a8"},
         "encoding": {"x": {"field": "x", "type": "quantitative"}, "y": {"field": "y", "type": "quantitative"}, "text": {"field": "phi", "type": "quantitative", "format": "d"}}},
        {"data": {"name": "ns"}, "transform": [{"filter": "datum.phi == 0"}],
         "mark": {"type": "text", "align": "right", "baseline": "middle", "dx": -4, "dy": 7, "fontSize": 10, "color": "#a8a8a8"},
         "encoding": {"x": {"field": "x", "type": "quantitative"}, "y": {"field": "y", "type": "quantitative"}, "text": {"field": "lith", "type": "nominal"}}},
        {"data": {"name": "blp"}, "mark": {"type": "point", "shape": "M-0.7,-1L0.7,0L-0.7,1", "size": 22, "strokeWidth": 1.1, "filled": false, "opacity": 1},
         "encoding": {"x": {"field": "x", "type": "quantitative"}, "y": {"field": "y", "type": "quantitative"},
           "color": {"field": "g", "type": "quantitative", "scale": {"type": "threshold", "domain": [15,30,45,60,75,90,105,120,135], "range": ["#0000ff","#00ffff","#ff00ff","#008000","#800000","#00ff00","#000080","#808000","#800080","#ff0000"]}, "legend": null}}},
        {"data": {"values": [{}]}, "mark": {"type": "text", "text": "(SWS) Neutron(TNPH) Sonic (Raymer) Overlay, DTFluid =", "align": "left", "baseline": "bottom", "dx": 2, "dy": -3, "font": "DejaVu Sans", "fontSize": 11, "fontWeight": "bold", "color": "#0f8f0f"},
         "encoding": {"x": {"datum": -0.05, "type": "quantitative"}, "y": {"datum": 40, "type": "quantitative"}}},
        {"data": {"values": [{}]}, "mark": {"type": "text", "text": "ННК-АК", "align": "center", "baseline": "middle", "fontSize": 12, "fontWeight": "bold", "color": "#2222a8"},
         "encoding": {"x": {"datum": 0.197, "type": "quantitative"}, "y": {"datum": 152.6, "type": "quantitative"}}},
        {"data": {"values": [{}]}, "mark": {"type": "text", "text": "Interval : 1280. : 1296.", "align": "center", "baseline": "middle", "fontSize": 9, "fontWeight": "bold", "color": "#000000"},
         "encoding": {"x": {"datum": 0.195, "type": "quantitative"}, "y": {"datum": 147.5, "type": "quantitative"}}}
      ]},
      {"data": {"name": "gr"}, "mark": {"type": "rect"},
       "encoding": {
         "x": {"datum": 0.4527, "type": "quantitative"}, "x2": {"datum": 0.4673},
         "y": {"field": "lo", "type": "quantitative", "scale": {"domain": [0, 150], "nice": false, "zero": false},
               "axis": {"orient": "right", "offset": 13, "values": [0,15,30,45,60,75,90,105,120,135,150], "format": "d", "labelExpr": "datum.label + '.'", "grid": false, "labelFontSize": 9, "labelFontWeight": "bold", "labelColor": "#000000", "labelPadding": 1, "title": "GR", "titleAngle": 0, "titleX": 0, "titleY": -11, "titleAlign": "left", "titleBaseline": "bottom", "titleColor": "#000000", "titleFontSize": 9, "titleFontWeight": "bold"}},
         "y2": {"field": "hi"},
         "color": {"field": "lo", "type": "quantitative", "scale": {"type": "threshold", "domain": [15,30,45,60,75,90,105,120,135], "range": ["#0000ff","#00ffff","#ff00ff","#008000","#800000","#00ff00","#000080","#808000","#800080","#ff0000"]}, "legend": null}
       }}
    ]
  },
  {
    "width": 386, "height": 333,
    "layer": [
      {"data": {"values": [{}]}, "mark": {"type": "rule", "stroke": "#000000", "strokeWidth": 2},
       "encoding": {"x": {"datum": -0.1187, "type": "quantitative"}, "y": {"datum": 154.41, "type": "quantitative"}, "y2": {"datum": 33.09}}},
      {"data": {"values": [{}]}, "mark": {"type": "rule", "stroke": "#000000", "strokeWidth": 2},
       "encoding": {"x": {"datum": -0.1187, "type": "quantitative"}, "x2": {"datum": 0.4565}, "y": {"datum": 154.41, "type": "quantitative"}}},
      {"data": {"name": "ns"}, "mark": {"type": "line", "color": "#a0a0a0", "strokeWidth": 1, "clip": true},
       "encoding": {
         "x": {"field": "x", "type": "quantitative", "scale": {"domain": [-0.05, 0.45], "nice": false, "zero": false},
               "axis": {"values": [-0.05, 0.05, 0.15, 0.25, 0.35, 0.45], "format": ".2f", "title": "ННК, дед", "labelFontSize": 9, "labelFontWeight": "bold", "labelColor": "#000000", "labelPadding": 3, "labelAlign": {"condition": {"test": "datum.value > 0.4", "value": "right"}, "value": "center"}, "titleFontSize": 10.5, "titleFontWeight": "bold", "titleColor": "#000000", "titlePadding": 2}},
         "y": {"field": "y", "type": "quantitative", "scale": {"domain": [40, 140], "nice": false, "zero": false},
               "axis": {"values": [40, 60, 80, 100, 120, 140], "format": "d", "labelExpr": "datum.label + '.'", "title": "АК, мкс/ф", "labelFontSize": 9, "labelFontWeight": "bold", "labelColor": "#000000", "labelPadding": 6, "titleFontSize": 12, "titleFontWeight": "normal", "titleColor": "#000000", "titlePadding": 13}},
         "detail": {"field": "lith"},
         "order": {"field": "phi"}
       }},
      {"data": {"name": "ns"}, "mark": {"type": "point", "shape": "M-0.5,-1L0.5,0L-0.5,1", "size": 30, "color": "#a0a0a0", "strokeWidth": 1, "angle": -38, "opacity": 1, "clip": true},
       "encoding": {"x": {"field": "x", "type": "quantitative"}, "y": {"field": "y", "type": "quantitative"}}},
      {"data": {"name": "ns"}, "transform": [{"filter": "datum.phi % 10 == 0 && datum.x <= 0.45"}],
       "mark": {"type": "text", "align": "left", "baseline": "middle", "dx": 5, "dy": 4, "fontSize": 10, "color": "#a8a8a8"},
       "encoding": {"x": {"field": "x", "type": "quantitative"}, "y": {"field": "y", "type": "quantitative"}, "text": {"field": "phi", "type": "quantitative", "format": "d"}}},
      {"data": {"name": "ns"}, "transform": [{"filter": "datum.phi == 0"}],
       "mark": {"type": "text", "align": "right", "baseline": "middle", "dx": -4, "dy": 7, "fontSize": 10, "color": "#a8a8a8"},
       "encoding": {"x": {"field": "x", "type": "quantitative"}, "y": {"field": "y", "type": "quantitative"}, "text": {"field": "lith", "type": "nominal"}}},
      {"data": {"name": "brp"}, "mark": {"type": "point", "shape": "M-0.7,-1L0.7,0L-0.7,1", "size": 22, "strokeWidth": 1.1, "filled": false, "opacity": 1},
       "encoding": {"x": {"field": "x", "type": "quantitative"}, "y": {"field": "y", "type": "quantitative"},
         "color": {"field": "g", "type": "quantitative", "scale": {"type": "threshold", "domain": [15,30,45,60,75,90,105,120,135], "range": ["#0000ff","#00ffff","#ff00ff","#008000","#800000","#00ff00","#000080","#808000","#800080","#ff0000"]}, "legend": null}}},
      {"data": {"values": [{}]}, "mark": {"type": "text", "text": "(SWS) Neutron(TNPH) Sonic (Raymer) Overlay, DTFluid =", "align": "left", "baseline": "bottom", "dx": 2, "dy": -3, "font": "DejaVu Sans", "fontSize": 11.6, "fontWeight": "bold", "color": "#0f8f0f"},
       "encoding": {"x": {"datum": -0.05, "type": "quantitative"}, "y": {"datum": 40, "type": "quantitative"}}},
      {"data": {"values": [{}]}, "mark": {"type": "text", "text": "ННК-АК", "align": "center", "baseline": "middle", "fontSize": 12, "fontWeight": "bold", "color": "#2222a8"},
       "encoding": {"x": {"datum": 0.196, "type": "quantitative"}, "y": {"datum": 152.6, "type": "quantitative"}}},
      {"data": {"values": [{}]}, "mark": {"type": "text", "text": "Interval : 1295. : 1320.", "align": "center", "baseline": "middle", "fontSize": 9, "fontWeight": "bold", "color": "#000000"},
       "encoding": {"x": {"datum": 0.196, "type": "quantitative"}, "y": {"datum": 147.5, "type": "quantitative"}}}
    ]
  }
]
}
